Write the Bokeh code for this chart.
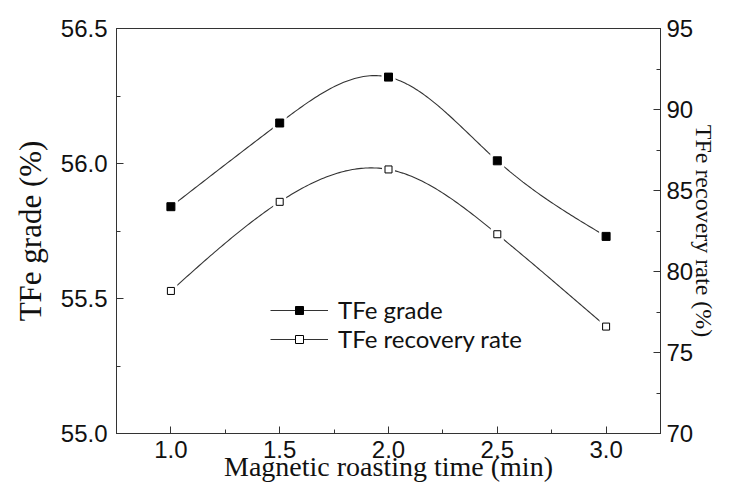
import numpy as np
from bokeh.plotting import figure
from bokeh.models import (Range1d, LinearAxis, SingleIntervalTicker, NumeralTickFormatter, FixedTicker,
                          Legend, LegendItem)
from bokeh.embed import file_html
from bokeh.resources import INLINE

# ---- data ----
time_min = [1.0, 1.5, 2.0, 2.5, 3.0]
tfe_grade = [55.84, 56.15, 56.32, 56.01, 55.73]
tfe_recovery = [78.8, 84.3, 86.3, 82.3, 76.6]


def natural_spline(xs, ys, n=200):
    x = np.asarray(xs, float)
    y = np.asarray(ys, float)
    m = len(x)
    h = np.diff(x)
    A = np.zeros((m, m))
    b = np.zeros(m)
    A[0, 0] = A[-1, -1] = 1.0
    for i in range(1, m - 1):
        A[i, i - 1] = h[i - 1]
        A[i, i] = 2 * (h[i - 1] + h[i])
        A[i, i + 1] = h[i]
        b[i] = 3 * ((y[i + 1] - y[i]) / h[i] - (y[i] - y[i - 1]) / h[i - 1])
    c = np.linalg.solve(A, b)
    xx = np.linspace(x[0], x[-1], n)
    yy = np.empty_like(xx)
    for k, xv in enumerate(xx):
        i = min(np.searchsorted(x, xv, side="right") - 1, m - 2)
        dx = xv - x[i]
        bi = (y[i + 1] - y[i]) / h[i] - h[i] * (2 * c[i] + c[i + 1]) / 3
        di = (c[i + 1] - c[i]) / (3 * h[i])
        yy[k] = y[i] + bi * dx + c[i] * dx ** 2 + di * dx ** 3
    return xx, yy


W, H = 721, 488
p = figure(width=W, height=H, x_range=Range1d(0.75, 3.25), y_range=Range1d(55.0, 56.5),
           output_backend="svg", toolbar_location=None,
           min_border_left=116, min_border_right=61, min_border_top=28, min_border_bottom=55)
p.extra_y_ranges = {"rec": Range1d(70, 95)}
p.xgrid.visible = False
p.ygrid.visible = False
p.outline_line_color = "#333333"
p.outline_line_width = 1
p.background_fill_color = "white"
p.border_fill_color = "white"

AX = "#333333"
TICK_FONT = "Liberation Sans"
TITLE_FONT = "Liberation Serif"


def style_axis(ax, standoff):
    ax.axis_line_color = AX
    ax.major_tick_line_color = AX
    ax.minor_tick_line_color = AX
    ax.major_tick_in = 7
    ax.major_tick_out = 0
    ax.minor_tick_in = 4
    ax.minor_tick_out = 0
    ax.major_label_text_font = TICK_FONT
    ax.major_label_text_font_size = "24px"
    ax.major_label_text_color = "#111111"
    ax.major_label_standoff = standoff
    ax.axis_label_text_font = TITLE_FONT
    ax.axis_label_text_font_style = "normal"
    ax.axis_label_text_color = "#111111"


def title_axis(text, size, standoff, bounds, range_name="default"):
    ax = LinearAxis(ticker=FixedTicker(ticks=[], minor_ticks=[]), bounds=bounds, y_range_name=range_name)
    ax.axis_line_color = None
    ax.major_tick_line_color = None
    ax.minor_tick_line_color = None
    ax.axis_label = text
    ax.axis_label_text_font = TITLE_FONT
    ax.axis_label_text_font_style = "normal"
    ax.axis_label_text_font_size = size
    ax.axis_label_text_color = "#111111"
    ax.axis_label_standoff = standoff
    return ax


xa = p.xaxis[0]
xa.ticker = SingleIntervalTicker(interval=0.5, num_minor_ticks=2)
xa.formatter = NumeralTickFormatter(format="0.0")
style_axis(xa, 7)
xa.axis_label = "Magnetic roasting time (min)"
xa.axis_label_text_font_size = "28px"
xa.axis_label_standoff = -10

ya = p.yaxis[0]
ya.ticker = SingleIntervalTicker(interval=0.5, num_minor_ticks=2)
ya.formatter = NumeralTickFormatter(format="0.0")
style_axis(ya, 9)

# title-only left axis (bounds place the title a little below centre, as in the reference)
p.add_layout(title_axis("TFe grade (%)", "31px", 10, (55.0, 56.36)), "left")

yr = LinearAxis(y_range_name="rec", ticker=SingleIntervalTicker(interval=5, num_minor_ticks=2))
style_axis(yr, 6)
p.add_layout(yr, "right")

# title-only right axis
p.add_layout(title_axis("TFe recovery rate (%)", "24px", -6, (71.66, 95.0), "rec"), "right")

LINE = "#333333"

# grade curve (left axis)
gx, gy = natural_spline(time_min, tfe_grade)
l1 = p.line(gx, gy, line_color=LINE, line_width=1.1)
h1 = p.scatter(time_min, tfe_grade, marker="square", size=14, fill_color="white", line_color=None)
m1 = p.scatter(time_min, tfe_grade, marker="square", size=8, fill_color="black", line_color="black")

# recovery curve (right axis)
rx, ry = natural_spline(time_min, tfe_recovery)
l2 = p.line(rx, ry, line_color=LINE, line_width=1.1, y_range_name="rec")
h2 = p.scatter(time_min, tfe_recovery, marker="square", size=13, fill_color="white", line_color=None,
               y_range_name="rec")
m2 = p.scatter(time_min, tfe_recovery, marker="square", size=7, fill_color="white", line_color="black",
               line_width=1, y_range_name="rec")

legend = Legend(items=[LegendItem(label="TFe grade", renderers=[l1, h1, m1]),
                       LegendItem(label="TFe recovery rate", renderers=[l2, h2, m2])],
                location=(154, 80), orientation="vertical")
legend.border_line_alpha = 0
legend.background_fill_alpha = 0
legend.padding = 0
legend.margin = 0
legend.spacing = 0
legend.glyph_width = 58
legend.glyph_height = 20
legend.label_standoff = 10
legend.label_text_font = "Lato"
legend.label_text_font_size = "24px"
legend.label_text_color = "#111111"
p.add_layout(legend, "center")

open("out.html", "w").write(file_html(p, INLINE))
